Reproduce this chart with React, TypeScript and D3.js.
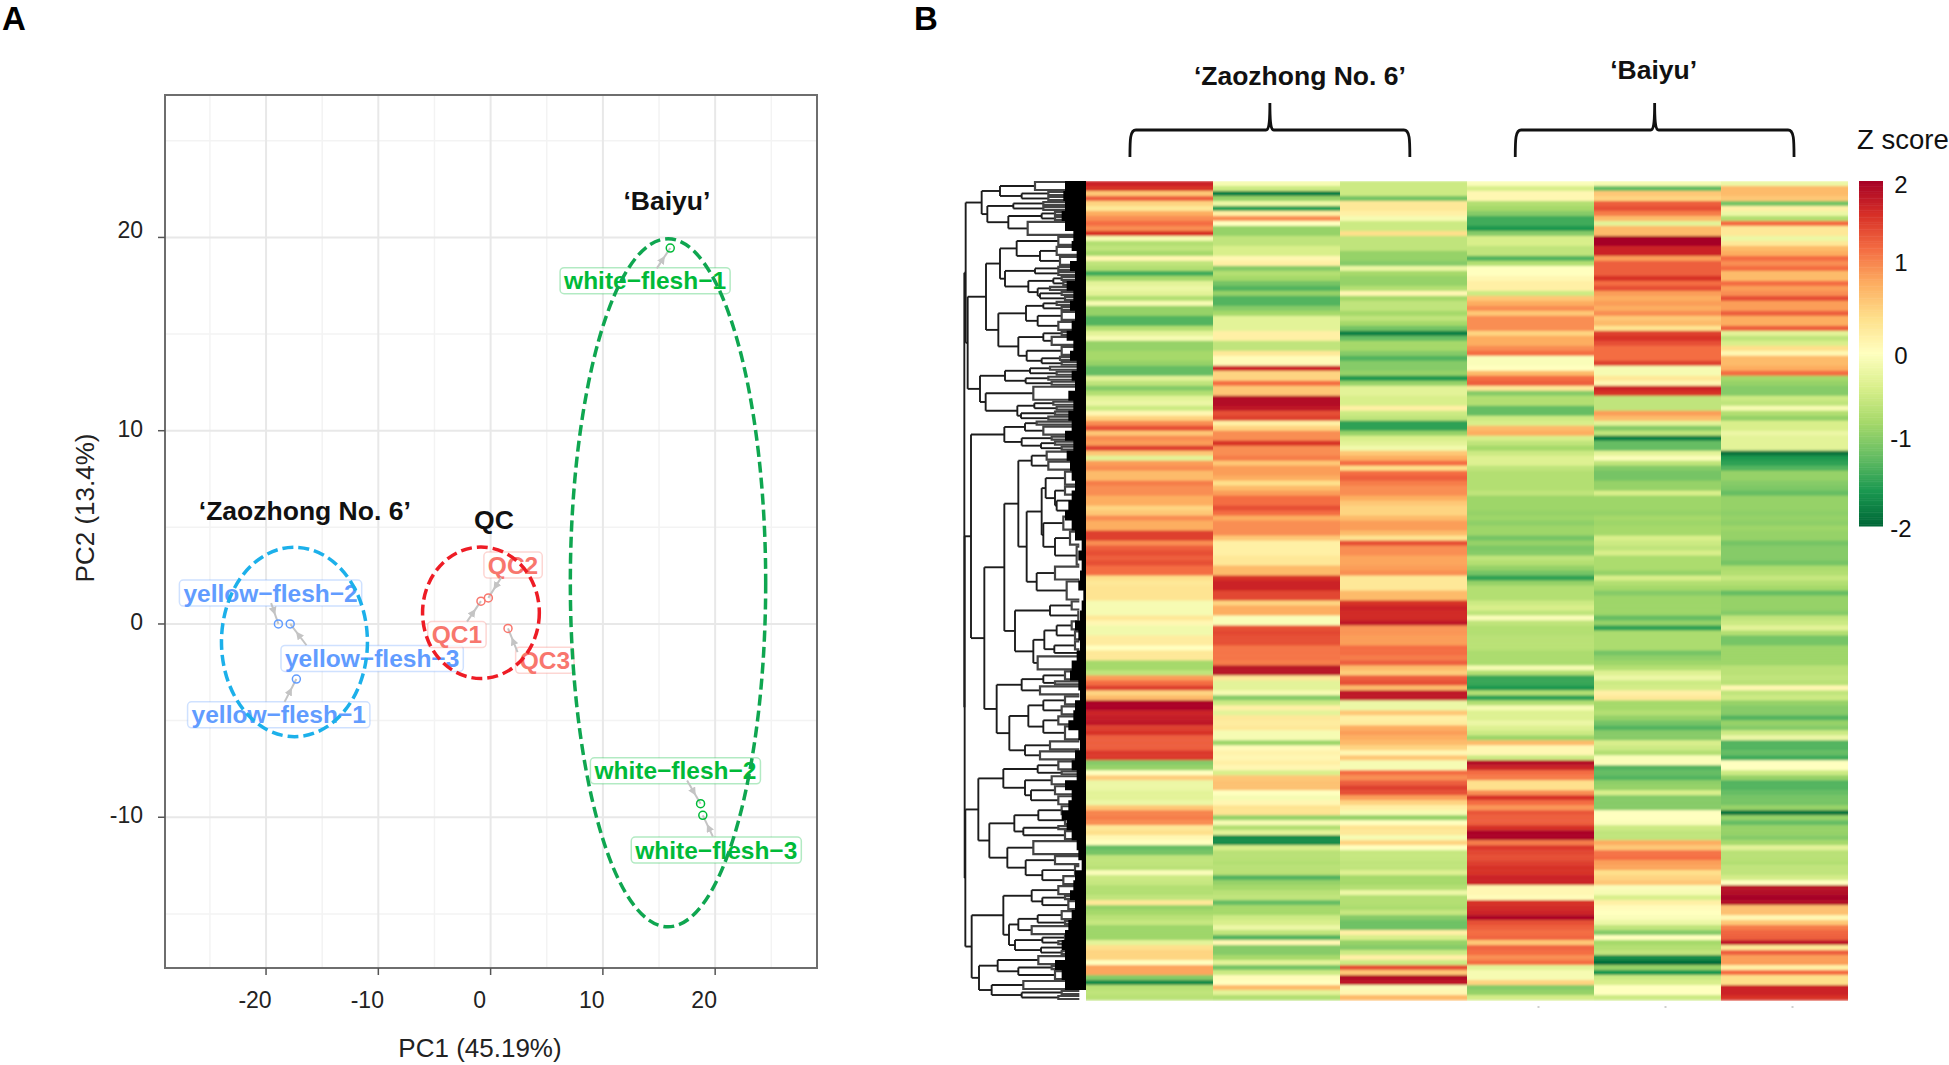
import * as d3 from 'd3';

// ---------- panel A data ----------
const sampleNames = ['yellow−flesh−1', 'yellow−flesh−2', 'yellow−flesh−3', 'QC1', 'QC2', 'QC3', 'white−flesh−1', 'white−flesh−2', 'white−flesh−3'];
const sampleGroup = ['yellow', 'yellow', 'yellow', 'qc', 'qc', 'qc', 'white', 'white', 'white'];
const pc1 = [-17.3, -18.9, -17.85, -0.86, -0.2, 1.55, 16, 18.7, 18.9];
const pc2 = [-2.85, 0, 0, 1.18, 1.35, -0.23, 19.45, -9.3, -9.9];
const labelPc1 = [-18.87, -19.6, -10.55, -3.0, 2.0, 4.83, 13.76, 16.46, 20.1];
const labelPc2 = [-4.7, 1.6, -1.78, -0.55, 3.05, -1.88, 17.76, -7.6, -11.7];
// where each repel segment leaves its label
const segmentPc1 = [-18.35, -19.55, -16.4, -2.1, 0.94, 2.4, 14.8, 17.5, 19.8];
const segmentPc2 = [-4.03, 1.08, -1.1, 0.12, 2.4, -1.45, 18.4, -8.1, -11];

const ellipseGroup = ['yellow', 'qc', 'white'];
const ellipseCx = [-17.47, -0.86, 15.8];
const ellipseCy = [-0.93, 0.58, 2.13];
const ellipseRx = [6.5, 5.2, 8.7];
const ellipseRy = [4.9, 3.4, 17.8];

const groupTitles = ['‘Zaozhong No. 6’', 'QC', '‘Baiyu’'];
const groupTitleX = [-16.55, 0.3, 15.7];
const groupTitleY = [5.4, 4.9, 21.4];

const majorX = [-20, -10, 0, 10, 20];
const minorX = [-25, -15, -5, 5, 15, 25];
const majorY = [-10, 0, 10, 20];
const minorY = [-15, -5, 5, 15, 25];

// ---------- panel B data: z scores per column, one value per row ----------
const zao1 = [
  1.7,1.6,.6,1.3,.5,.3,.8,1.0,1.2,1.0,1.6,-.1,-.7,-.6,-.8,.1,-.6,-.7,-1.4,-.8,-.3,-.2,-.3,-.7,-.1,-.9,-.9,
  -1.3,
  -1.3,-.7,-.3,-.1,-.9,-.9,-.8,-.8,-.9,-1.2,-1.2,-.3,-.6,-1.0,-.7,-.3,-.2,-.5,.1,.5,1.0,1.4,.6,1.0,.9,1.5,.6,
  -.3,.9,1.0,.7,.7,1.1,1.0,1.0,.8,.8,.5,.6,1.0,.8,.8,1.5,1.5,1.0,1.3,1.4,1.3,1.4,1.2,1.2,.4,.3,.35,
  .35,.35,-.1,-.1,-.1,.3,.1,-.15,-.15,.25,.25,.0,.3,.3,-.8,-.8,-.6,.9,1.2,1.5,.5,.7,1.95,1.95,1.7,1.75,1.8,1.5,
  1.6,1.3,1.3,1.3,1.55,1.55,-1.0,-.9,.0,.55,-.2,-.2,-.3,-.3,-.2,.6,1.05,1.1,1.0,.3,.4,.1,.0,-1.2,-1.1,-.6,-.6,
  -.65,-.05,-.5,-.55,-.7,-.7,-.6,.3,-.9,-.8,-.65,-.55,-.85,-.85,-.85,-.3,.4,.5,.5,.0,.85,.85,-1.0,-1.7,-.65,-.6,-.65,
];
const zao2 = [
  -.1,-.5,-1.8,-.9,-.2,-1.5,.2,1.0,.0,-.9,-.9,-.6,-.6,-.4,-.4,.1,.2,-1.0,-.7,-.8,-1.1,-1.3,-.9,-1.3,-1.3,-1.0,-.8,
  -.3,
  -.3,-.3,.2,.2,-.6,-.6,.3,.05,.05,1.7,.5,.5,1.2,.6,.6,1.9,1.9,1.8,1.4,1.5,.2,.5,1.0,1.0,1.6,1.0,1.0,
  1.1,.6,.9,.9,.8,.4,.7,.9,1.2,1.2,1.4,1.2,.8,1.0,1.0,1.0,.6,.2,.2,.2,.3,.3,.7,.7,1.6,1.7,1.7,
  1.45,1.45,.5,.8,.8,-.05,-.05,1.4,1.45,1.4,1.4,1.15,1.15,1.15,1.1,1.85,1.85,.3,-.3,-.3,-.1,-1.0,-.5,.2,-.3,.3,.25,.3,
  -.1,-.1,-.85,.05,.15,.1,.2,.1,-.4,.6,.65,.65,.0,-.1,.1,.35,.35,-.9,-.1,-.7,-.3,-1.7,-1.7,-.4,-.65,-.65,-.7,
  -.65,-.65,-1.3,-.9,-.8,-.65,-.6,-1.2,-.8,-.8,-.5,-.4,-.2,-.6,-1.3,.1,-1.0,-1.0,-.8,-.3,-1.1,-.5,.05,.0,.7,-.3,-.7,
];
const zao3 = [
  -.5,-.5,-.5,-1.1,.3,.3,.2,-.1,-.5,-.5,.4,-.6,-.6,-.6,-.9,-.9,-1.0,-.2,-.8,-.9,-.9,-.7,.1,-.8,-.6,-.6,-.8,
  -.6,
  -.8,-1.1,-1.8,-1.2,-.8,-.8,-1.0,-1.3,-1.0,-1.0,-.9,-1.6,-.9,-.3,-.3,-.4,-.4,.2,-.5,-.6,-1.5,-1.5,-.9,-.4,-.3,-.15,.6,
  .8,1.2,.4,1.2,1.3,1.1,1.0,1.0,.8,.6,.5,.5,.7,.9,.9,.7,.35,1.4,1.0,1.0,.85,.85,.9,1.0,.3,.3,.3,
  .7,.7,1.6,1.7,1.65,1.65,1.8,.95,.95,.9,.9,1.2,1.2,1.1,1.3,.7,.55,1.3,1.4,.7,1.8,1.8,-.2,-.2,.6,.2,.25,.8,
  .9,.8,.7,.5,.1,.6,-.1,-.1,1.2,1.0,1.3,1.5,1.4,.9,.5,.2,-.1,-.9,.0,.35,.3,-.1,.5,.0,-.55,-.55,-.6,
  -.6,-.35,-.8,-.8,-.7,-.2,-.7,-.7,-.75,-.55,-1.0,-1.15,-1.15,.2,-.4,-.9,-1.0,-.5,.2,-.5,1.4,.6,1.9,1.8,-.05,.1,.7,
];
const bai1 = [
  -.05,-.4,.1,.1,-.7,-.8,-1.0,-1.4,-1.4,-1.6,-1.0,-.4,-.4,-.6,-.6,-1.3,-.7,0,0,.1,.2,.2,-.5,.6,.8,1.0,.6,
  1.0,
  1.0,1.0,.5,.8,.8,1.0,1.2,-.05,-.05,.0,.7,1.2,1.3,.3,-1.0,-.7,-.7,-1.2,-1.2,-.5,-.4,.7,.8,-.4,-.6,-.8,-.5,
  -.35,-.35,-.6,-.7,-.7,-.7,-.7,-.6,-.85,-.85,-.85,-.9,-.85,-.95,-.85,-.85,-1.1,-.9,-1.05,-1.0,-.6,-.7,-.9,-1.1,-1.5,-.9,-.7,
  -.7,-.7,-.5,-.4,-.6,-.05,-.6,-.7,-.7,-.65,-.65,-.65,-.75,-.75,-.75,-.1,-.7,-1.45,-1.45,-1.6,-.7,-1.5,-.7,-.1,-.35,-.35,-.2,-.35,
  -.5,-.85,.7,.1,.1,-.5,1.9,1.7,1.2,1.1,.4,.4,1.0,1.6,1.2,.95,1.35,1.3,1.3,1.6,1.95,1.95,1.1,1.55,1.45,1.4,1.5,
  1.6,1.6,1.7,1.7,.1,.1,.05,1.6,1.65,1.7,1.95,1.4,1.3,1.2,1.25,.6,1.25,1.2,1.0,1.2,-.3,-.1,-.1,.5,-1.0,-.9,-.45,
];
const bai2 = [
  -.1,-1.2,.6,.5,1.3,1.4,1.1,.7,-.3,.7,.7,2.0,2.0,1.7,1.7,.9,1.3,1.3,1.3,1.6,1.2,1.4,.9,.8,.9,.8,1.0,
  .6,
  .7,.35,1.5,1.6,1.4,1.2,1.2,1.2,1.5,-.1,-.1,.3,.1,1.7,1.6,-.6,-.6,-.6,.9,.7,-.3,-1.0,-.6,-1.8,-1.2,-1.2,-.3,
  -.05,-.6,-1.0,-1.1,-1.1,-.9,-.9,-.4,-.85,-.85,-.85,-.9,-.8,-.85,-.8,-.8,-.4,-.5,-.6,-.4,-.75,-.75,-.75,-.9,-.4,-.7,-.8,
  -1,-.85,-.85,-.85,-.85,-1.2,-.9,-1.5,-.75,-.75,-.75,-.75,-1.1,-.95,-.85,-.7,-.35,-.2,-.5,-.45,.2,.3,-.8,-.8,-.7,-.9,-1.1,-1.3,
  -1.0,-1.0,-.4,-.5,-.7,-.05,-.05,-1.3,-1.2,-1.3,-.95,-.9,-.4,-1.0,-1.0,-1.0,0,0,-.05,-.5,-.6,-.6,.8,.6,1.15,1.2,.9,
  .85,.4,.5,.6,-.05,-.1,-.4,.2,.05,.0,-.05,-.2,-.6,-1.0,.0,-.8,-.7,-.6,-1.7,-1.95,-.9,-1.6,-.5,-.4,.0,.0,-.5,
];
const bai3 = [
  -.2,.7,.7,.6,-1.1,.2,-.2,-.7,1.2,.3,.3,-.2,.3,.7,.8,1.2,1.0,1.2,.7,.7,1.2,.9,1.0,1.4,.9,.9,1.3,
  .8,
  .8,1.3,-.3,-.6,-.4,.4,.1,.7,.7,.8,1.2,-.8,-.9,-1.0,-1.0,-.5,-.6,-.1,-.7,-.9,-.4,-.4,-.2,-.3,-.3,-.3,-1.9,
  -1.6,-1.5,-1.3,-.9,-.9,-1.0,-1.05,-1.2,-.9,-.9,-.9,-.95,-.9,-.95,-.85,-.9,-.9,-1.1,-1.0,-1.0,-1.0,-1.1,-.75,-.7,-.55,-.7,-.8,
  -1.2,-.9,-.9,-.9,-1.0,-.6,-.5,-.3,-.7,-1.1,-1.1,-.85,-.85,-.85,-.85,-.65,-.65,-.6,-.65,.1,-.6,-.5,-.9,-1.0,-1.0,-1.3,-.9,-1.0,
  -.5,-.2,-1.3,-1.3,-1.2,-1.4,.0,.0,-.5,-.9,-1.3,-1.3,-1.2,-1.1,-1.1,-.9,-1.9,-.9,-1.2,-.9,-.9,-1.0,-.8,-.3,-.65,-.65,-.7,
  -.6,-.6,-.45,.0,1.85,1.9,2.0,1.9,.65,.65,.1,.6,1.1,1.25,1.3,1.8,.3,1.3,.9,.9,.2,1.2,.4,.4,1.7,1.7,1.6,
];
const zColumns = [zao1, zao2, zao3, bai1, bai2, bai3];

const varietyNames = ['‘Zaozhong No. 6’', '‘Baiyu’'];
const legendTicks = [-2, -1, 0, 1, 2];

// row clustering: [distance, child, child] or, for a terminal clade, [distance, row count]
type Clade = [number, number] | [number, Clade, Clade];
const topClade: Clade = [361,
  [313,
    [258, [153, 2], [193, [113, 1], [113, 1]]],
    [296, [218, [128, 1], [128, 1]], [233, [133, [93, 1], [93, 1]], [175, 3]]],
  ],
  [355,
    [300,
      [258,
        [208, [83, 2], [138, [88, 2], [78, 2]]],
        [243, [153, [83, 1], [83, 1]], [173, [98, [73, 1], [68, 1]], [145, [108, 1], [138, [73, 1], [63, 1]]]]],
      ],
      [263,
        [180, [128, [88, 1], [73, 1]], [145, [73, 2], [83, 2]]],
        [203, [128, [73, 1], [103, 2]], [178, [73, 2], [133, [78, 1], [73, 1]]]],
      ],
    ],
    [318,
      [243, [168, [108, 1], [88, 1]], [181, [113, 1], [103, 1]]],
      [301, [158, 3], [206, [155, [98, 1], [88, 1]], [195, [93, 1], [113, 1]]]],
    ],
  ],
];
const midClade: Clade = [345,
  [245, [183, [148, 1], [128, 2]], [193, [103, 1], [135, [93, 1], [73, 1]]]],
  [305,
    [245,
      [203,
        [163, [118, 2], [113, 2]],
        [178,
          [133,
            [121, [63, 3], [93, [63, 2], [88, [33, 2], [33, 2]]]],
            [128, [68, 3], [93, [48, 3], [28, 4]]],
          ],
          [148, [93, 3], [58, 4]],
        ],
      ],
      [213,
        [108, [43, 2], [23, 2]],
        [158, [125, [88, [43, 2], [33, 2]], [95, [33, 2], [23, 1]]], [145, 3]],
      ],
    ],
    [268,
      [193, [128, [63, 2], [93, 1]], [138, 2]],
      [230,
        [173, [128, [63, 2], [73, 2]], [128, [83, 2], [63, 3]]],
        [183, [108, 2], [138, 2]],
      ],
    ],
  ],
];
const lowClade: Clade = [362,
  [323,
    [248, [145, [83, 2], [73, 1]], [183, [103, 2], [165, [93, 2], [83, 2]]]],
    [290,
      [215, [143, [73, 2], [63, 2]], [188, [83, 1], [63, 2]]],
      [236, [158, 3], [181, [93, 2], [131, [33, 2], [68, 2]]]],
    ],
  ],
  [343,
    [248,
      [163, [83, 2], [131, [63, 1], [53, 2]]],
      [231,
        [203, [145, [73, 2], [63, 1]], [163, 2]],
        [213, [131, [63, 1], [83, 1]], [135, [63, 1], [73, 1]]],
      ],
    ],
    [321,
      [265, [143, 2], [203, [103, 1], [93, 2]]],
      [283, [188, 2], [193, [73, 1], [83, 1]]],
    ],
  ],
];
const rowTree: Clade = [365, topClade, [364, midClade, lowClade]];
// depth of the solid black leaf mass, one value per two rows
const leafMass = [
  68, 63, 68, 63, 73, 63, 38, 43, 28, 48, 33, 58, 38, 48, 33, 43, 58, 38, 48, 28, 43, 33, 53, 38,
  53, 43, 63, 38, 58, 48, 43, 33, 43, 53, 63, 43, 33, 13, 23, 13, 18, 23, 8, 13, 18, 33, 23, 18,
  28, 43, 48, 23, 18, 33, 38, 53, 23, 18, 33, 43, 28, 63, 43, 53, 73, 58, 43, 28, 23, 13, 33, 38,
  48, 33, 43, 53, 63, 73, 63, 93, 73, 63,
];

// ---------- layout ----------
const W = 1949;
const H = 1065;
const FONT = '"Liberation Sans", Arial, sans-serif';

const xScale = d3.scaleLinear().domain([-29, 29.07]).range([165, 817]);
const yScale = d3.scaleLinear().domain([-17.8, 27.37]).range([968, 95]);

const colorStops = d3.schemeRdYlGn[11];
const zColor = d3
  .scaleLinear<string>()
  .domain(colorStops.map((_, i) => 2 - i * 0.4))
  .range(colorStops)
  .clamp(true);

const colBand = d3.scaleBand<number>().domain(d3.range(6)).range([1086, 1848]);
const rowBand = d3.scaleBand<number>().domain(d3.range(zao1.length)).range([181, 1000]);
const colPos = d3.scaleLinear().domain([0, 6]).range([1086, 1848]);
const treeX = d3.scaleLinear().domain([0, 393]).range([1086, 955]);
const legendY = d3.scaleLinear().domain([-2, 2]).range([526, 181]);
const legendLabelY = d3.scaleLinear().domain(legendTicks).range([528, 438, 355, 262, 184]);

const groupColor: Record<string, string> = { yellow: '#619CFF', qc: '#F8766D', white: '#00BA38' };
const ellipseColor: Record<string, string> = { yellow: '#1cb0ea', qc: '#ee1c25', white: '#0fa650' };

const measure = document.createElement('canvas').getContext('2d')!;
function textWidth(text: string, font: string) {
  measure.font = font;
  return measure.measureText(text).width;
}

// build dendrogram segments, y from the row each leaf starts at
function buildTree() {
  const root = d3.hierarchy<Clade>(rowTree, (d) => (Array.isArray(d[1]) ? (d.slice(1) as Clade[]) : null));
  const branches: string[] = [];
  const fans: string[] = [];
  let nextRow = 0;
  const visit = (node: d3.HierarchyNode<Clade>): number => {
    const x = treeX(node.data[0]);
    if (!node.children) {
      const n = node.data[1] as number;
      const top = rowBand(nextRow)! + 1;
      const bottom = rowBand(nextRow + n - 1)! + rowBand.bandwidth() - 1;
      nextRow += n;
      const end = treeX(20);
      fans.push(`M${end},${top}H${x}V${bottom}H${end}`);
      return (top + bottom) / 2;
    }
    const ys = node.children.map((c) => {
      const y = visit(c);
      branches.push(`M${x},${y}H${treeX(c.data[0])}`);
      return y;
    });
    branches.push(`M${x},${ys[0]}V${ys[1]}`);
    return (ys[0] + ys[1]) / 2;
  };
  visit(root);
  return { branches, fans };
}

function ScatterPanel() {
  const font = `bold 24.5px ${FONT}`;
  return (
    <g fontFamily={FONT}>
      <rect x={165} y={95} width={652} height={873} fill="#fff" />
      {minorX.map((v) => (
        <line key={v} x1={xScale(v)} x2={xScale(v)} y1={95} y2={968} stroke="#f3f3f3" strokeWidth={1.5} />
      ))}
      {minorY.map((v) => (
        <line key={v} y1={yScale(v)} y2={yScale(v)} x1={165} x2={817} stroke="#f3f3f3" strokeWidth={1.5} />
      ))}
      {majorX.map((v) => (
        <line key={v} x1={xScale(v)} x2={xScale(v)} y1={95} y2={968} stroke="#e8e8e8" strokeWidth={2} />
      ))}
      {majorY.map((v) => (
        <line key={v} y1={yScale(v)} y2={yScale(v)} x1={165} x2={817} stroke="#e8e8e8" strokeWidth={2} />
      ))}
      <rect x={165} y={95} width={652} height={873} fill="none" stroke="#6e6e6e" strokeWidth={2} />
      {majorX.map((v) => (
        <g key={v}>
          <line x1={xScale(v)} x2={xScale(v)} y1={968} y2={975} stroke="#555" strokeWidth={1.5} />
          <text x={xScale(v) - 11} y={1008} textAnchor="middle" fontSize={23} fill="#222">{v}</text>
        </g>
      ))}
      {majorY.map((v) => (
        <g key={v}>
          <line x1={158} x2={165} y1={yScale(v)} y2={yScale(v)} stroke="#555" strokeWidth={1.5} />
          <text x={143} y={yScale(v) + (v === 20 ? 1 : 6)} textAnchor="end" fontSize={23} fill="#222">{v}</text>
        </g>
      ))}
      <text x={480} y={1057} textAnchor="middle" fontSize={26} fill="#222">PC1 (45.19%)</text>
      <text transform="translate(94,508) rotate(-90)" textAnchor="middle" fontSize={26} fill="#222">PC2 (13.4%)</text>

      {sampleNames.map((name, i) => {
        const w = textWidth(name, font) + 8;
        const cx = xScale(labelPc1[i]);
        const cy = yScale(labelPc2[i]);
        const color = groupColor[sampleGroup[i]];
        return (
          <g key={name}>
            <rect x={cx - w / 2} y={cy - 13} width={w} height={26} rx={4} fill="#fff" fillOpacity={0.8} stroke={color} strokeOpacity={0.3} strokeWidth={1.5} />
            <text x={cx} y={cy + 8.5} textAnchor="middle" fontSize={24.5} fontWeight={700} fill={color}>{name}</text>
          </g>
        );
      })}
      {sampleNames.map((name, i) => (
        <line
          key={name}
          x1={xScale(segmentPc1[i])}
          y1={yScale(segmentPc2[i])}
          x2={xScale(pc1[i])}
          y2={yScale(pc2[i])}
          stroke="#c4c4c4"
          strokeWidth={2}
          markerEnd="url(#repelArrow)"
        />
      ))}
      {sampleNames.map((name, i) => (
        <circle key={name} cx={xScale(pc1[i])} cy={yScale(pc2[i])} r={4} fill="none" stroke={groupColor[sampleGroup[i]]} strokeWidth={1.5} />
      ))}
      {ellipseGroup.map((g, i) => (
        <ellipse
          key={g}
          cx={xScale(ellipseCx[i])}
          cy={yScale(ellipseCy[i])}
          rx={xScale(ellipseRx[i]) - xScale(0)}
          ry={yScale(0) - yScale(ellipseRy[i])}
          fill="none"
          stroke={ellipseColor[g]}
          strokeWidth={3.5}
          strokeDasharray="11 5"
        />
      ))}
      {groupTitles.map((t, i) => (
        <text key={t} x={xScale(groupTitleX[i])} y={yScale(groupTitleY[i])} textAnchor="middle" fontSize={26.5} fontWeight={700} fill="#111">{t}</text>
      ))}
    </g>
  );
}

function HeatmapPanel() {
  const { branches, fans } = buildTree();
  const massArea = d3
    .area<number>()
    .curve(d3.curveStepAfter)
    .x0(1086)
    .x1((d) => treeX(d))
    .y((_, i) => rowBand(0)! + i * 2 * rowBand.step());
  const bracketStart = [0.346, 3.38];
  const bracketEnd = [2.55, 5.575];
  const legendSteps = d3.range(-2, 2, 0.02);
  return (
    <g fontFamily={FONT}>
      <g filter="url(#rowBlur)">
        {zColumns.map((col, c) =>
          col.map((z, r) => (
            <rect key={`${c}-${r}`} x={colBand(c)} y={rowBand(r)} width={colBand.bandwidth()} height={rowBand.bandwidth() + 0.5} fill={zColor(z)} />
          )),
        )}
      </g>
      <g fill="none" stroke="#1c1c1c" strokeWidth={1.9}>
        {branches.map((d, i) => (
          <path key={i} d={d} />
        ))}
      </g>
      <g fill="none" stroke="#444" strokeWidth={2.2}>
        {fans.map((d, i) => (
          <path key={i} d={d} />
        ))}
      </g>
      <path d={massArea([...leafMass, 0]) ?? undefined} fill="#000" />

      {[3, 4, 5].map((c) => (
        <rect key={c} x={colBand(c)! + colBand.bandwidth() / 2 + 7} y={1006} width={2} height={2} fill="#cfcfcf" />
      ))}

      {varietyNames.map((name, i) => {
        const a = colPos(bracketStart[i]);
        const b = colPos(bracketEnd[i]);
        const mid = (a + b) / 2;
        const d = `M${a},157 C${a},140 ${a},130 ${a + 6},130 H${mid - 4} C${mid - 1},130 ${mid},124 ${mid},103 C${mid},124 ${mid + 1},130 ${mid + 4},130 H${b - 6} C${b},130 ${b},140 ${b},157`;
        return (
          <g key={name}>
            <path d={d} fill="none" stroke="#111" strokeWidth={2.8} />
            <text x={mid + (i === 0 ? 30 : -1)} y={i === 0 ? 85 : 79} textAnchor="middle" fontSize={26.5} fontWeight={700} fill="#111">{name}</text>
          </g>
        );
      })}

      {legendSteps.map((v) => (
        <rect key={v} x={1859} y={legendY(v + 0.02)} width={24} height={legendY(v) - legendY(v + 0.02) + 0.5} fill={zColor(v)} />
      ))}
      {legendTicks.map((v) => (
        <text key={v} x={1901} y={legendLabelY(v) + 9} textAnchor="middle" fontSize={24} fill="#111">{v}</text>
      ))}
      <text x={1857} y={149} fontSize={27.5} fill="#111">Z score</text>
    </g>
  );
}

export default function App() {
  return (
    <svg width={W} height={H} viewBox={`0 0 ${W} ${H}`} style={{ position: 'absolute', left: 0, top: 0, display: 'block', background: '#fff' }}>
      <defs>
        <marker id="repelArrow" viewBox="0 0 10 10" refX={22} refY={5} markerWidth={4} markerHeight={4} orient="auto">
          <path d="M0,0L10,5L0,10z" fill="#c4c4c4" />
        </marker>
        <filter id="rowBlur" x="-1%" y="0" width="102%" height="100%">
          <feGaussianBlur stdDeviation="0 1" />
        </filter>
      </defs>
      <text x={2} y={30} fontFamily={FONT} fontSize={33} fontWeight={700} fill="#000">A</text>
      <text x={914} y={30} fontFamily={FONT} fontSize={33} fontWeight={700} fill="#000">B</text>
      <ScatterPanel />
      <HeatmapPanel />
    </svg>
  );
}
